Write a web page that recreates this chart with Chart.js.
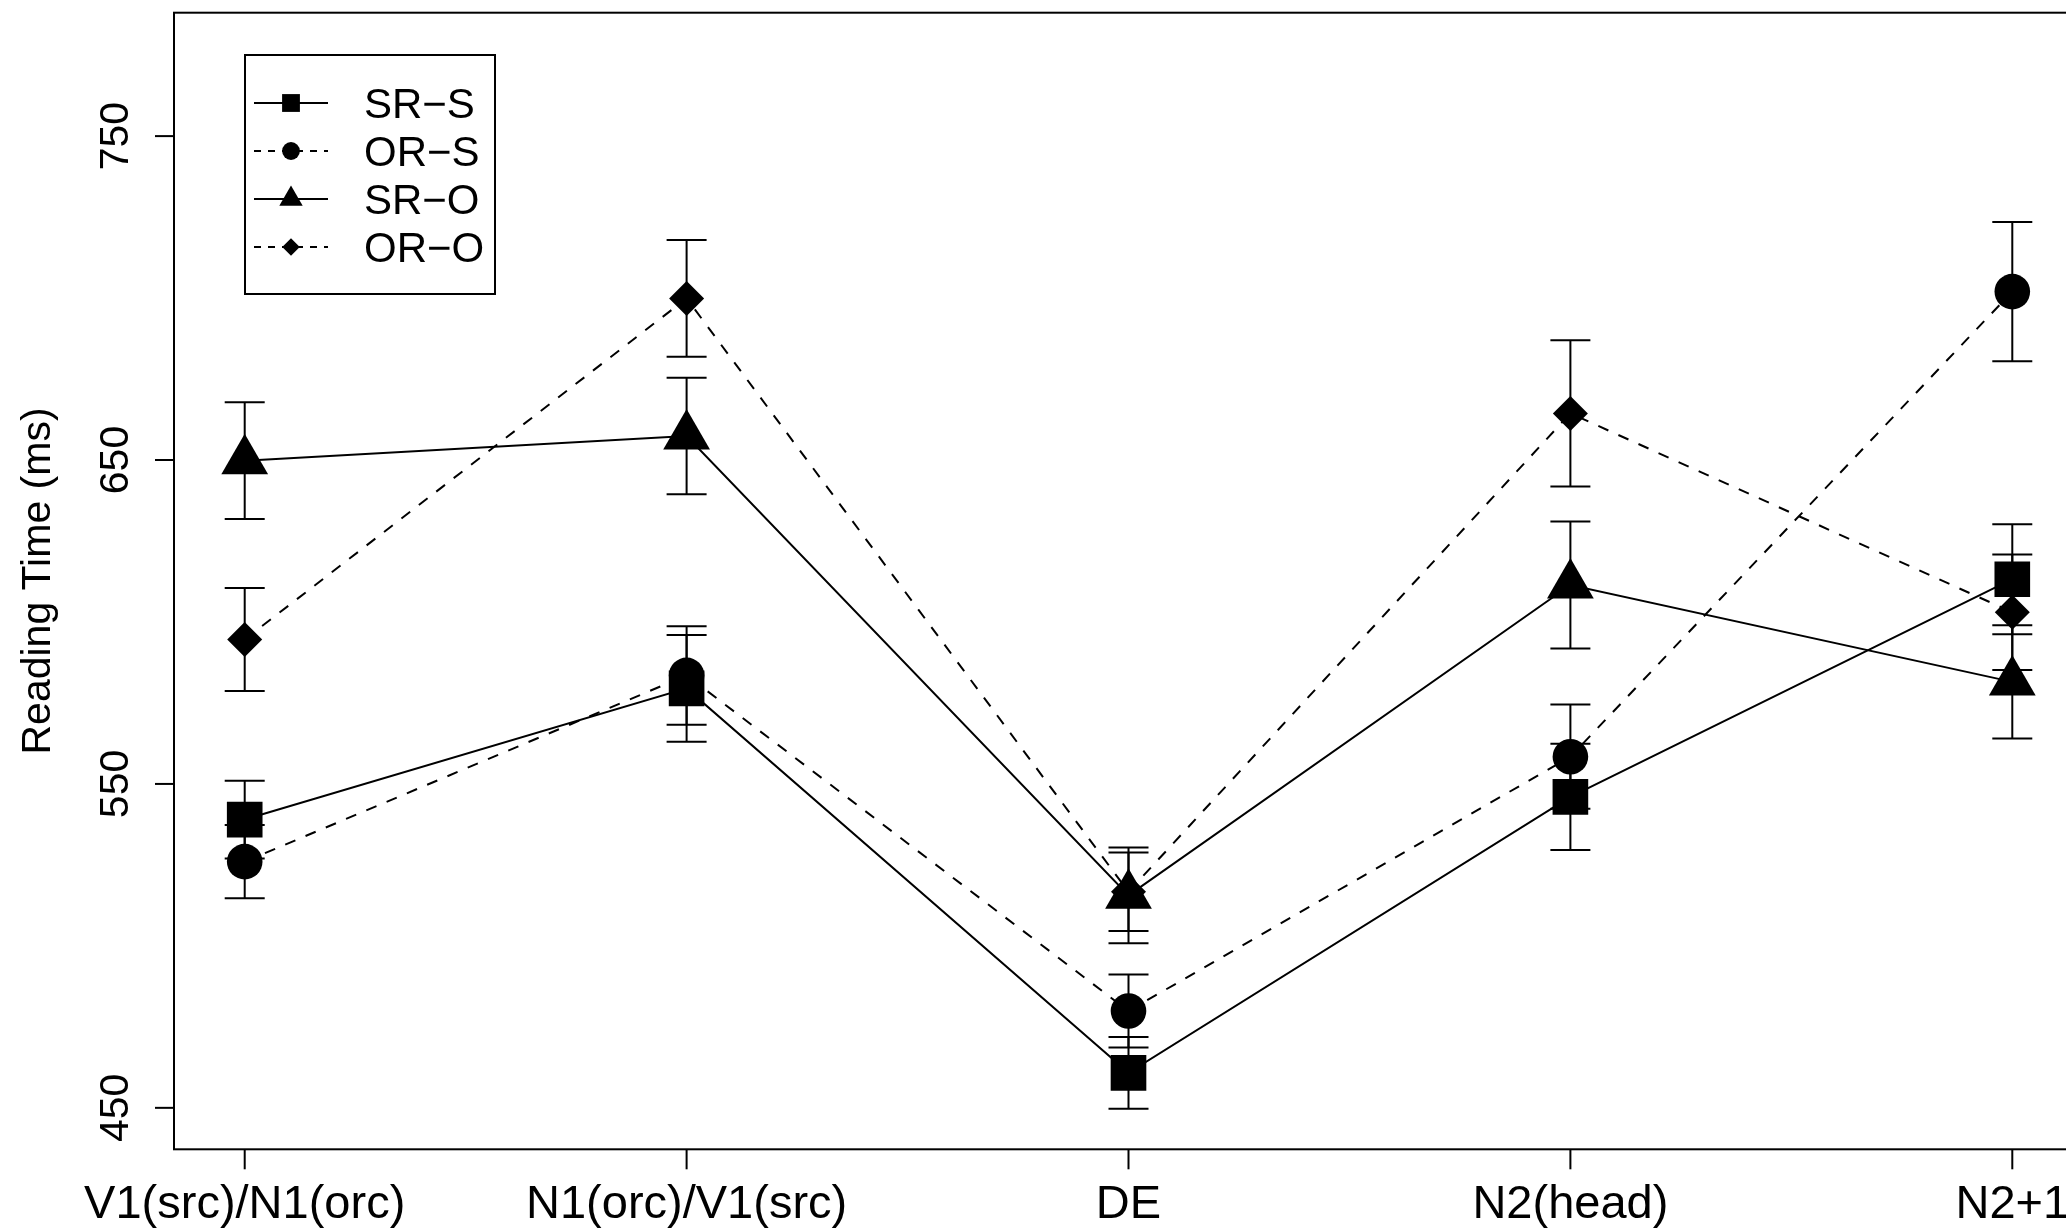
<!DOCTYPE html>
<html lang="es">
<head>
<meta charset="utf-8">
<title>Reading Time (ms)</title>
<script src="https://cdn.jsdelivr.net/npm/chart.js@4.4.1/dist/chart.umd.min.js"></script>
<style>
  html, body { margin: 0; padding: 0; background: #fff; overflow: hidden; }
  canvas { display: block; }
</style>
</head>
<body>
<canvas id="graficoLectura" width="2100" height="1230"></canvas>
<script>
// Regiones de la oración (eje X)
const REGIONES = ['V1(src)/N1(orc)', 'N1(orc)/V1(src)', 'DE', 'N2(head)', 'N2+1'];

// Nombres de las condiciones (leyenda)
const CONDICIONES = ['SR\u2212S', 'OR\u2212S', 'SR\u2212O', 'OR\u2212O'];

// Tiempos medios de lectura (ms)
const SR_S = [539, 579.5, 460.8, 546, 613.2];
const OR_S = [526, 583.5, 479.9, 558.4, 702];
const SR_O = [649.8, 657.4, 515.6, 611.4, 581.5];
const OR_O = [594.6, 699.9, 516.7, 664.4, 603];

// Errores estándar
const SR_S_ERR = [12, 16.5, 11.1, 16.4, 17];
const OR_S_ERR = [11.3, 15.2, 11.3, 16.1, 21.5];
const SR_O_ERR = [18, 18, 14.8, 19.6, 17.5];
const OR_O_ERR = [15.9, 18, 12.1, 22.6, 17.8];

// Marcas del eje Y
const TICKS_Y = [450, 550, 650, 750];
const TITULO_Y = 'Reading Time (ms)';

// Estilo de cada serie: forma del punto, radio y trazo
const ESTILOS = [
    { forma: 'rect',     radio: 25.2, dash: [] },
    { forma: 'circle',   radio: 17.8, dash: [11, 11] },
    { forma: 'triangle', radio: 27,   dash: [] },
    { forma: 'rectRot',  radio: 17.5, dash: [11, 11] }
];

const FUENTE = '"Liberation Sans", Arial, Helvetica, sans-serif';

const series = [SR_S, OR_S, SR_O, OR_O];
const errores = [SR_S_ERR, OR_S_ERR, SR_O_ERR, OR_O_ERR];

/**
 * Dibuja una marca rellena (para la leyenda) con la misma geometría que Chart.js.
 */
function dibujarMarca(ctx, forma, r, x, y) {
    ctx.beginPath();
    if (forma === 'rect') {
        const s = r * Math.SQRT1_2;
        ctx.rect(x - s, y - s, 2 * s, 2 * s);
    } else if (forma === 'circle') {
        ctx.arc(x, y, r, 0, Math.PI * 2);
    } else if (forma === 'triangle') {
        const dx = r * Math.sin(Math.PI / 3);
        ctx.moveTo(x, y - r);
        ctx.lineTo(x + dx, y + r / 2);
        ctx.lineTo(x - dx, y + r / 2);
    } else if (forma === 'rectRot') {
        ctx.moveTo(x - r, y);
        ctx.lineTo(x, y - r);
        ctx.lineTo(x + r, y);
        ctx.lineTo(x, y + r);
    }
    ctx.closePath();
    ctx.fill();
}

// Barras de error (se dibujan debajo de los puntos)
const barrasError = {
    id: 'barrasError',
    beforeDatasetsDraw(chart) {
        const { ctx, scales: { x, y } } = chart;
        ctx.save();
        ctx.strokeStyle = '#000';
        ctx.lineWidth = 2;
        chart.data.datasets.forEach(ds => {
            ds.data.forEach((p, j) => {
                const px = x.getPixelForValue(p.x);
                const arriba = y.getPixelForValue(p.y + ds.err[j]);
                const abajo = y.getPixelForValue(p.y - ds.err[j]);
                ctx.beginPath();
                ctx.moveTo(px, arriba); ctx.lineTo(px, abajo);
                ctx.moveTo(px - 20, arriba); ctx.lineTo(px + 20, arriba);
                ctx.moveTo(px - 20, abajo); ctx.lineTo(px + 20, abajo);
                ctx.stroke();
            });
        });
        ctx.restore();
    }
};

// Caja, ejes, etiquetas y leyenda al estilo de R
const ejesR = {
    id: 'ejesR',
    beforeDraw(chart) {
        const ctx = chart.ctx;
        ctx.save();
        ctx.fillStyle = '#fff';
        ctx.fillRect(0, 0, chart.width, chart.height);
        ctx.restore();
    },
    afterDraw(chart) {
        const { ctx, chartArea: a, scales: { x, y } } = chart;
        ctx.save();
        ctx.strokeStyle = '#000';
        ctx.fillStyle = '#000';
        ctx.lineWidth = 2;
        ctx.setLineDash([]);

        // Caja del gráfico
        ctx.strokeRect(a.left, a.top, a.right - a.left, a.bottom - a.top);

        // Eje X: marcas y etiquetas
        ctx.font = '47px ' + FUENTE;
        ctx.textAlign = 'center';
        ctx.textBaseline = 'alphabetic';
        REGIONES.forEach((txt, i) => {
            const px = x.getPixelForValue(i);
            ctx.beginPath();
            ctx.moveTo(px, a.bottom);
            ctx.lineTo(px, a.bottom + 20);
            ctx.stroke();
            ctx.fillText(txt, px, a.bottom + 69);
        });

        // Eje Y: marcas y etiquetas giradas
        ctx.font = '41px ' + FUENTE;
        TICKS_Y.forEach(v => {
            const py = y.getPixelForValue(v);
            ctx.beginPath();
            ctx.moveTo(a.left, py);
            ctx.lineTo(a.left - 19, py);
            ctx.stroke();
            ctx.save();
            ctx.translate(a.left - 46, py);
            ctx.rotate(-Math.PI / 2);
            ctx.fillText(String(v), 0, 0);
            ctx.restore();
        });

        // Título del eje Y
        ctx.save();
        ctx.translate(50, (a.top + a.bottom) / 2);
        ctx.rotate(-Math.PI / 2);
        ctx.fillText(TITULO_Y, 0, 0);
        ctx.restore();

        // Leyenda
        const caja = { x: 245, y: 55, w: 250, h: 239 };
        ctx.lineWidth = 2;
        ctx.strokeRect(caja.x, caja.y, caja.w, caja.h);
        ctx.font = '42px ' + FUENTE;
        ctx.textAlign = 'left';
        CONDICIONES.forEach((nombre, i) => {
            const fy = 103 + i * 48;
            ctx.beginPath();
            ctx.setLineDash(ESTILOS[i].dash.length ? [7, 7] : []);
            ctx.moveTo(254, fy);
            ctx.lineTo(328, fy);
            ctx.stroke();
            ctx.setLineDash([]);
            dibujarMarca(ctx, ESTILOS[i].forma, ESTILOS[i].radio / 2, 291, fy);
            ctx.fillText(nombre, 364, fy + 15);
        });
        ctx.restore();
    }
};

const datasets = series.map((valores, i) => ({
    label: CONDICIONES[i],
    data: valores.map((v, j) => ({ x: j, y: v })),
    err: errores[i],
    borderColor: '#000',
    borderWidth: 2,
    borderDash: ESTILOS[i].dash,
    pointStyle: ESTILOS[i].forma,
    pointRadius: ESTILOS[i].radio,
    pointHoverRadius: ESTILOS[i].radio,
    pointBackgroundColor: '#000',
    pointBorderColor: '#000',
    pointBorderWidth: 0,
    fill: false,
    tension: 0,
    clip: false
}));

new Chart(document.getElementById('graficoLectura').getContext('2d'), {
    type: 'line',
    data: { datasets },
    options: {
        responsive: false,
        animation: false,
        events: [],
        layout: {
            autoPadding: false,
            padding: { left: 174, top: 12.7, right: 17, bottom: 80.7 }
        },
        scales: {
            x: { type: 'linear', min: -0.16, max: 4.16, display: false },
            y: { type: 'linear', min: 437.2, max: 788.1, display: false }
        },
        plugins: {
            legend: { display: false },
            tooltip: { enabled: false }
        }
    },
    plugins: [barrasError, ejesR]
});
</script>
</body>
</html>
